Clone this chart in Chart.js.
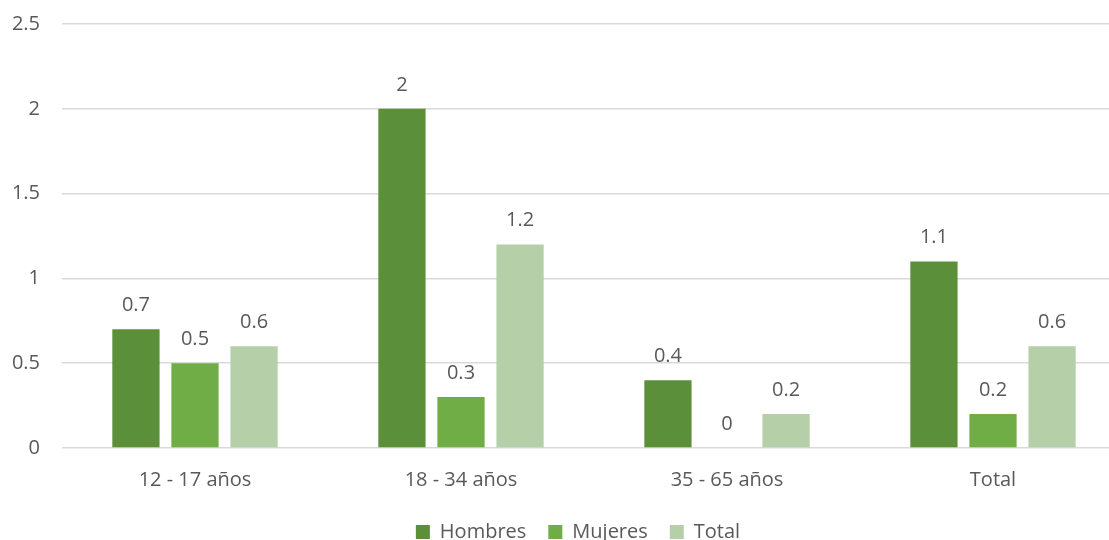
<!DOCTYPE html>
<html><head><meta charset="utf-8">
<script src="https://cdn.jsdelivr.net/npm/chart.js@4"></script>
<style>html,body{margin:0;padding:0;background:#fff;overflow:hidden}#wrap{width:1109px;height:540px;overflow:hidden}</style>
</head><body><div id="wrap"><canvas id="c" width="1126" height="540" style="width:1126px;height:540px"></canvas></div>
<script>
const categories = ["12 - 17 años", "18 - 34 años", "35 - 65 años", "Total"];
const seriesNames = ["Hombres", "Mujeres", "Total"];
const hombres = [0.7, 2, 0.4, 1.1];
const mujeres = [0.5, 0.3, 0, 0.2];
const total = [0.6, 1.2, 0.2, 0.6];
const yTicks = [0, 0.5, 1, 1.5, 2, 2.5];
const colors = ["#5B8F3A", "#70AD47", "#B5D0A8"];
const FONT = "'Open Sans', 'Liberation Sans', sans-serif";
const TXT = "#595959";

const labelPlugin = {
  id: "vals",
  afterLayout(chart) {
    // centre legend on the visible (cropped) page and give it room down to the bottom edge
    const lg = chart.legend;
    if (lg) {
      lg.left += 15; lg.right += 15;
      lg.top -= 4; lg.height += 12; lg.bottom = lg.top + lg.height;
    }
  },
  afterDatasetsDraw(chart) {
    const ctx = chart.ctx;
    ctx.save();
    ctx.font = "20px " + FONT;
    ctx.fillStyle = TXT;
    ctx.textAlign = "center";
    ctx.textBaseline = "alphabetic";
    chart.data.datasets.forEach((ds, i) => {
      chart.getDatasetMeta(i).data.forEach((bar, j) => {
        ctx.fillText(String(ds.data[j]), bar.x, bar.y - 18);
      });
    });
    ctx.restore();
  }
};

new Chart(document.getElementById("c"), {
  type: "bar",
  data: {
    labels: categories,
    datasets: [
      { label: seriesNames[0], data: hombres, backgroundColor: colors[0] },
      { label: seriesNames[1], data: mujeres, backgroundColor: colors[1] },
      { label: seriesNames[2], data: total, backgroundColor: colors[2] }
    ]
  },
  options: {
    responsive: false,
    animation: false,
    layout: { padding: { top: 24, right: 0, left: 0, bottom: 0 } },
    datasets: { bar: { categoryPercentage: 0.666, barPercentage: 0.8 } },
    plugins: {
      legend: {
        position: "bottom",
        maxHeight: 36,
        labels: { font: { size: 20, family: FONT }, color: TXT, boxWidth: 14, boxHeight: 14, padding: 22 }
      },
      tooltip: { enabled: false }
    },
    scales: {
      x: {
        grid: { display: false },
        border: { display: false },
        ticks: { font: { size: 20, family: FONT }, color: TXT, padding: 12 }
      },
      y: {
        min: 0, max: 2.5,
        afterBuildTicks(axis) { axis.ticks = yTicks.map(v => ({ value: v })); },
        afterFit(axis) { axis.width = 62; axis.paddingTop = 0; axis.paddingBottom = 0; },
        grid: { color: "#D9D9D9", lineWidth: 1.5, drawTicks: false },
        border: { display: false },
        ticks: { font: { size: 20, family: FONT }, color: TXT, padding: 22, callback: v => String(v) }
      }
    }
  },
  plugins: [labelPlugin]
});
</script></body></html>
